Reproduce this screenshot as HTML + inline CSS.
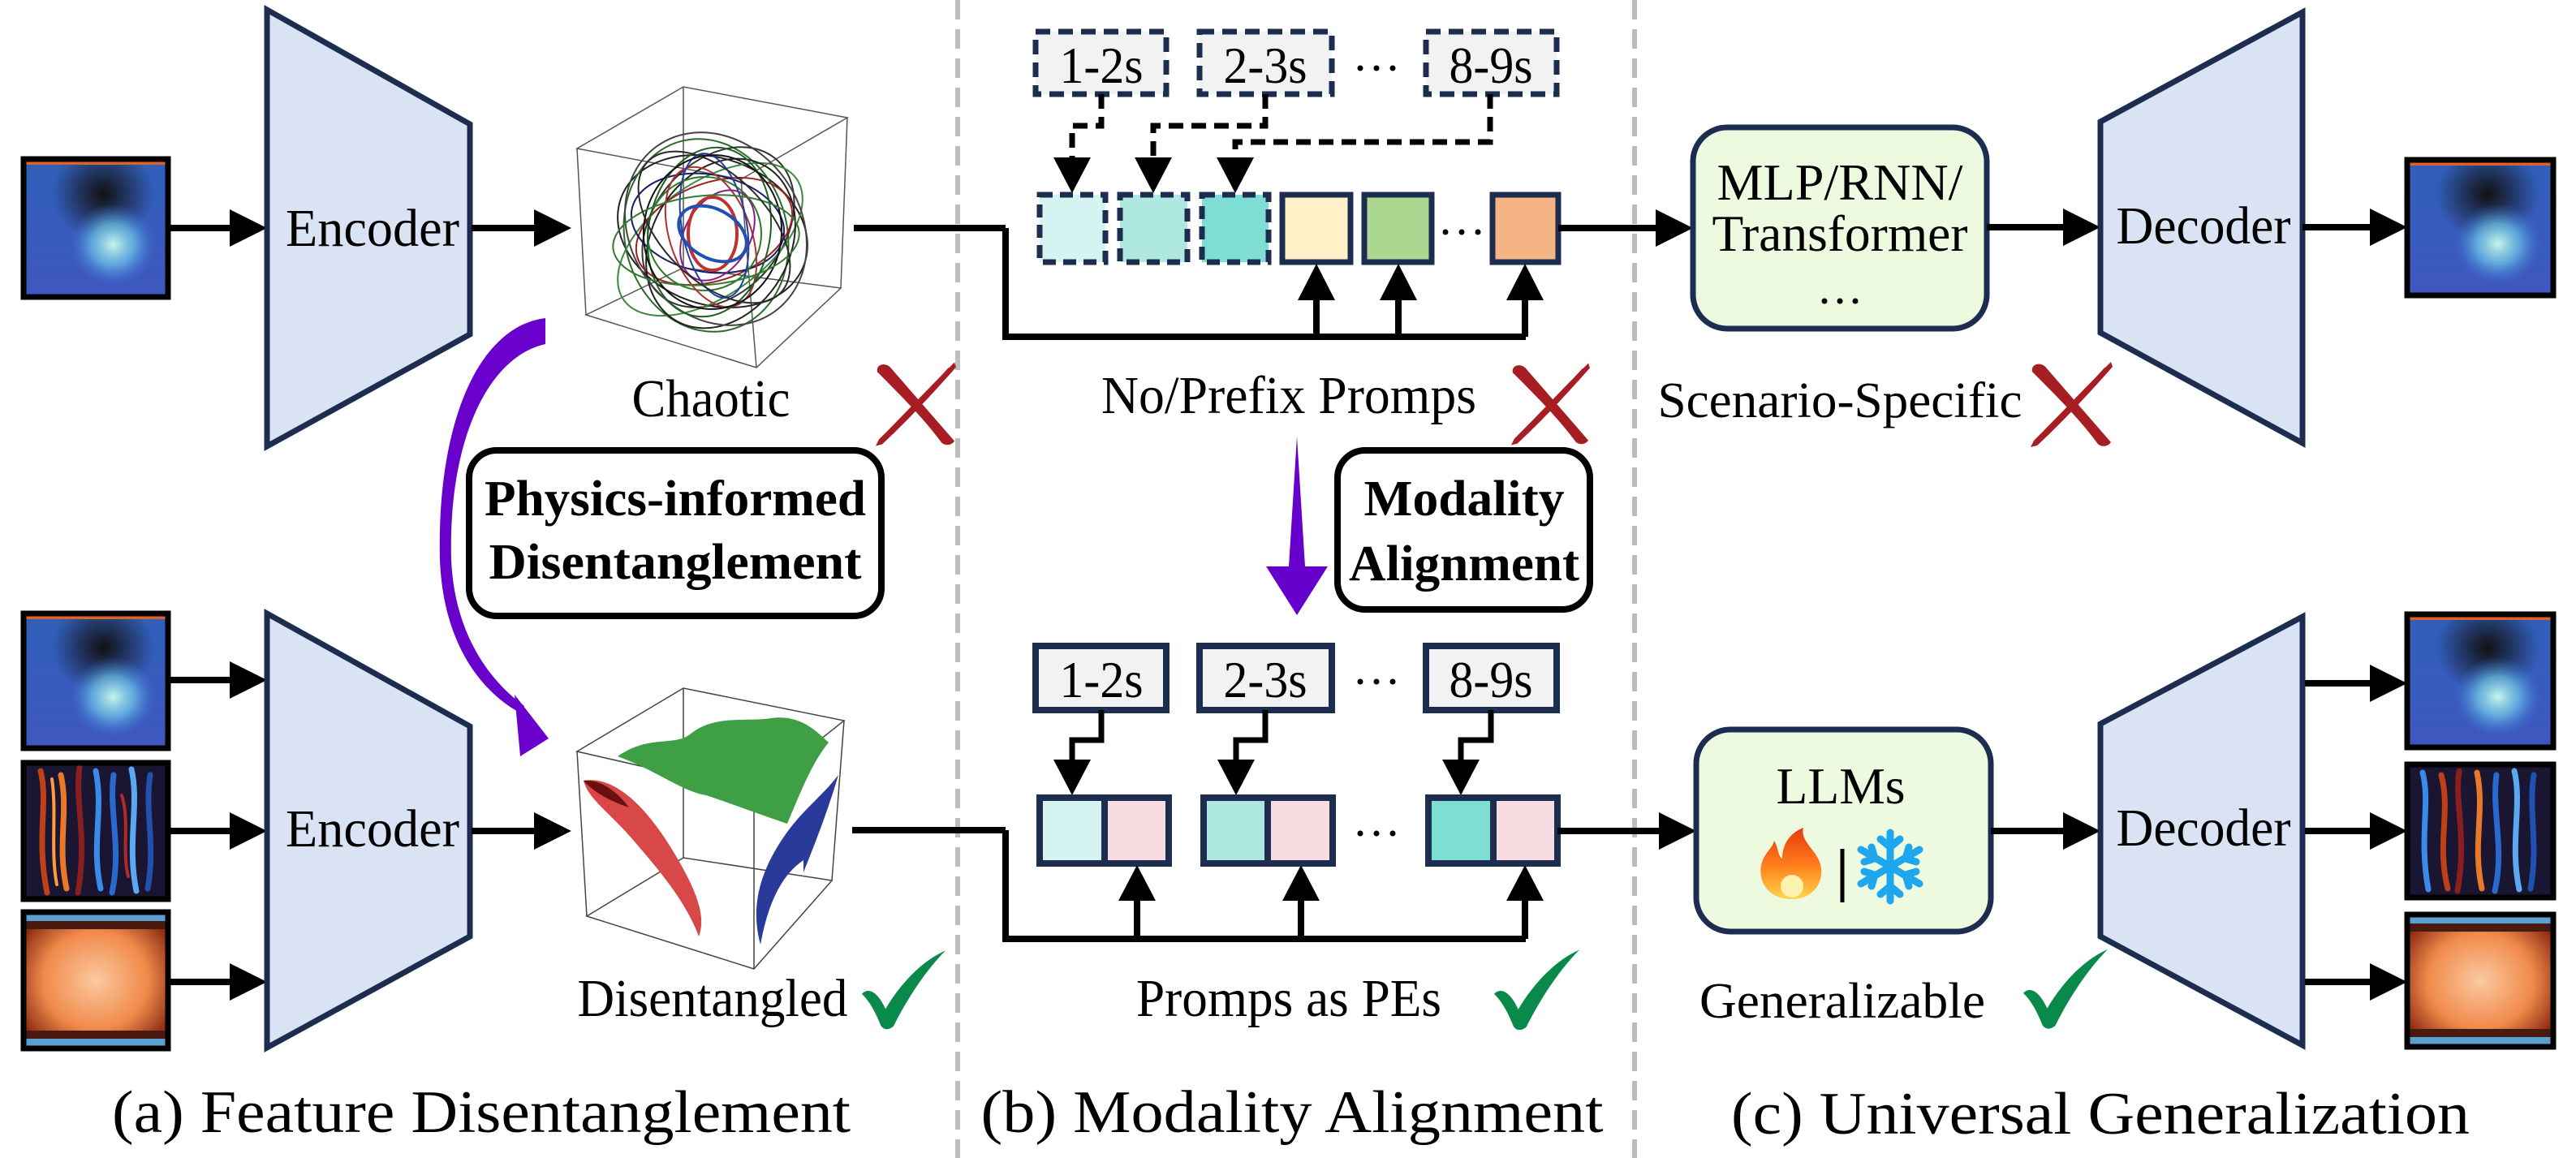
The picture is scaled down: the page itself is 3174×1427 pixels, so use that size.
<!DOCTYPE html>
<html><head><meta charset="utf-8"><style>html,body{margin:0;padding:0;background:#fff}svg{display:block}svg text{font-family:"Liberation Serif","DejaVu Serif",serif}</style></head>
<body>
<svg width="3174" height="1427" viewBox="0 0 3174 1427" xmlns="http://www.w3.org/2000/svg">
<defs>
<radialGradient id="g1a" cx="0.55" cy="0.25" r="0.35"><stop offset="0" stop-color="#111"/><stop offset="1" stop-color="#111" stop-opacity="0"/></radialGradient>
<radialGradient id="g1b" cx="0.62" cy="0.62" r="0.3"><stop offset="0" stop-color="#c8f5e8"/><stop offset="0.5" stop-color="#6fc6e8" stop-opacity="0.7"/><stop offset="1" stop-color="#3a7ad8" stop-opacity="0"/></radialGradient>
<linearGradient id="g1bg" x1="0" y1="0" x2="0" y2="1"><stop offset="0" stop-color="#2f5fb8"/><stop offset="1" stop-color="#3f57c0"/></linearGradient>
<radialGradient id="g3" cx="0.5" cy="0.5" r="0.6"><stop offset="0" stop-color="#fbc9a0"/><stop offset="0.6" stop-color="#f08a4a"/><stop offset="1" stop-color="#8a2a12"/></radialGradient>
<linearGradient id="fire" x1="0" y1="1" x2="0" y2="0"><stop offset="0" stop-color="#ffd54a"/><stop offset="0.5" stop-color="#ff7a1a"/><stop offset="1" stop-color="#e53a12"/></linearGradient>
<symbol id="rx" viewBox="0 0 100 104">
<path d="M2,12 C0,2 12,0 18,6 L98,98 C94,104 86,104 82,100 C60,70 30,40 2,12 Z" fill="#a61e24"/>
<path d="M98,0 L100,6 C70,40 40,72 8,102 L0,104 L4,96 C34,66 64,34 98,0 Z" fill="#a61e24"/>
<path d="M92,8 L20,88" stroke="#a61e24" stroke-width="4"/>
</symbol>
<symbol id="ck" viewBox="0 0 110 100">
<path d="M2,55 C10,46 22,52 32,74 C52,40 80,12 108,0 C86,22 62,56 42,96 C36,101 30,101 26,95 C20,80 12,64 2,55 Z" fill="#0a8a4a"/>
</symbol>
</defs>

<line x1="1180" y1="0" x2="1180" y2="1427" stroke="#bdbdbd" stroke-width="6" stroke-dasharray="24 12"/>
<line x1="2014" y1="0" x2="2014" y2="1427" stroke="#bdbdbd" stroke-width="6" stroke-dasharray="24 12"/>

<!-- ===== (a) ===== -->
<g>
<rect x="29" y="196" width="178" height="170" fill="url(#g1bg)"/>
<rect x="29" y="196" width="178" height="170" fill="url(#g1a)"/>
<rect x="29" y="196" width="178" height="170" fill="url(#g1b)"/>
<rect x="32" y="199" width="172" height="4" fill="#e0602a"/>
<rect x="29" y="196" width="178" height="170" fill="none" stroke="#000" stroke-width="7"/>
</g>
<line x1="207" y1="281" x2="285" y2="281" stroke="#000" stroke-width="8"/><polygon points="283,258 329,281 283,304"/>
<polygon points="329,12 579,153 579,412 329,550" fill="#dae3f3" stroke="#1c2d50" stroke-width="7"/>
<text x="459" y="303" font-size="66" text-anchor="middle" textLength="214" lengthAdjust="spacingAndGlyphs">Encoder</text>
<line x1="581" y1="281" x2="660" y2="281" stroke="#000" stroke-width="8"/><polygon points="658,258 704,281 658,304"/>
<g fill="none" stroke="#555" stroke-width="1.5">
<polygon points="711,183 842,107 1044,145 913,221"/>
<polygon points="722,388 842,330 1036,355 932,453"/>
<line x1="711" y1="183" x2="722" y2="388"/><line x1="842" y1="107" x2="842" y2="330"/><line x1="1044" y1="145" x2="1036" y2="355"/><line x1="913" y1="221" x2="932" y2="453"/>
</g>
<g fill="none" stroke-width="2">
<ellipse cx="878" cy="285" rx="120" ry="90" transform="rotate(20 878 285)" stroke="#222"/>
<ellipse cx="870" cy="290" rx="100" ry="120" transform="rotate(-15 870 290)" stroke="#2a6b2a"/>
<ellipse cx="885" cy="280" rx="80" ry="110" transform="rotate(40 885 280)" stroke="#333"/>
<ellipse cx="875" cy="295" rx="130" ry="70" transform="rotate(-35 875 295)" stroke="#3a8a3a"/>
<ellipse cx="880" cy="285" rx="60" ry="100" transform="rotate(70 880 285)" stroke="#a02020"/>
<ellipse cx="872" cy="275" rx="95" ry="60" transform="rotate(10 872 275)" stroke="#1a1a6a"/>
<ellipse cx="888" cy="300" rx="110" ry="85" transform="rotate(-60 888 300)" stroke="#222"/>
<ellipse cx="868" cy="288" rx="70" ry="70" stroke="#2a7a2a"/>
<ellipse cx="882" cy="282" rx="125" ry="105" transform="rotate(55 882 282)" stroke="#444"/>
<ellipse cx="876" cy="292" rx="50" ry="90" transform="rotate(-20 876 292)" stroke="#b03030"/>
<ellipse cx="880" cy="278" rx="90" ry="40" transform="rotate(80 880 278)" stroke="#2040a0"/>
<ellipse cx="874" cy="286" rx="105" ry="75" transform="rotate(-80 874 286)" stroke="#1f5f1f"/>
<ellipse cx="884" cy="290" rx="40" ry="60" transform="rotate(30 884 290)" stroke="#802080"/>
<ellipse cx="878" cy="286" rx="85" ry="95" transform="rotate(5 878 286)" stroke="#111"/>
<ellipse cx="870" cy="296" rx="115" ry="55" transform="rotate(-5 870 296)" stroke="#357a35"/>
<ellipse cx="880" cy="280" rx="65" ry="115" transform="rotate(-45 880 280)" stroke="#2b2b2b"/>
<ellipse cx="878" cy="288" rx="30" ry="45" stroke="#c03030" stroke-width="4"/>
<ellipse cx="878" cy="288" rx="45" ry="30" transform="rotate(30 878 288)" stroke="#2050b0" stroke-width="4"/>
</g>
<text x="876" y="513" font-size="66" text-anchor="middle" textLength="195" lengthAdjust="spacingAndGlyphs">Chaotic</text>
<use href="#rx" x="1079" y="446" width="99" height="104"/>
<line x1="1052" y1="281" x2="1239" y2="281" stroke="#000" stroke-width="8"/>
<path d="M672,392 C590,402 538,520 542,690 C546,790 590,850 640,878 L646,870 C602,838 560,780 556,690 C552,545 600,440 672,424 Z" fill="#6a00cc"/>
<polygon points="634,856 676,910 641,932" fill="#6a00cc"/>
<rect x="578" y="555" width="508" height="204" rx="34" fill="#fff" stroke="#000" stroke-width="8"/>
<text x="832" y="635" font-size="62" font-weight="bold" text-anchor="middle" textLength="470" lengthAdjust="spacingAndGlyphs">Physics-informed</text>
<text x="832" y="713" font-size="62" font-weight="bold" text-anchor="middle" textLength="459" lengthAdjust="spacingAndGlyphs">Disentanglement</text>

<g>
<rect x="29" y="756" width="178" height="166" fill="url(#g1bg)"/>
<rect x="29" y="756" width="178" height="166" fill="url(#g1a)"/>
<rect x="29" y="756" width="178" height="166" fill="url(#g1b)"/>
<rect x="32" y="759" width="172" height="4" fill="#e0602a"/>
<rect x="29" y="756" width="178" height="166" fill="none" stroke="#000" stroke-width="7"/>
</g>
<g>
<rect x="29" y="940" width="178" height="168" fill="#1a1530"/>
<g fill="none" stroke-width="7" stroke-linecap="round">
<path d="M50,950 C60,990 44,1030 58,1100" stroke="#c0401a"/>
<path d="M75,955 C85,1000 70,1040 82,1095" stroke="#e8782a"/>
<path d="M98,945 C92,990 108,1030 96,1100" stroke="#8a1f20"/>
<path d="M118,950 C128,1000 112,1040 124,1095" stroke="#3a8ae8"/>
<path d="M140,955 C134,1000 150,1045 138,1100" stroke="#2a6ad0"/>
<path d="M162,948 C172,990 156,1040 168,1098" stroke="#5aa8f0"/>
<path d="M185,955 C178,1000 192,1040 182,1095" stroke="#2050b0"/>
<path d="M64,960 C70,1000 62,1050 70,1090" stroke="#ff9a40" stroke-width="4"/>
<path d="M150,980 C160,1010 150,1050 158,1080" stroke="#b02a2a" stroke-width="4"/>
</g>
<rect x="29" y="940" width="178" height="168" fill="none" stroke="#000" stroke-width="7"/>
</g>
<g>
<rect x="29" y="1124" width="178" height="168" fill="url(#g3)"/>
<rect x="32" y="1127" width="172" height="8" fill="#5aa0d0"/>
<rect x="32" y="1135" width="172" height="10" fill="#4a1a10"/>
<rect x="32" y="1270" width="172" height="10" fill="#4a1a10"/>
<rect x="32" y="1280" width="172" height="9" fill="#5aa0d0"/>
<rect x="29" y="1124" width="178" height="168" fill="none" stroke="#000" stroke-width="7"/>
</g>
<g stroke="#000" stroke-width="8"><line x1="207" y1="838" x2="285" y2="838"/><line x1="207" y1="1024" x2="285" y2="1024"/><line x1="207" y1="1210" x2="285" y2="1210"/></g>
<polygon points="283,815 329,838 283,861"/><polygon points="283,1001 329,1024 283,1047"/><polygon points="283,1187 329,1210 283,1233"/>
<polygon points="329,756 579,895 579,1154 329,1291" fill="#dae3f3" stroke="#1c2d50" stroke-width="7"/>
<text x="459" y="1043" font-size="66" text-anchor="middle" textLength="214" lengthAdjust="spacingAndGlyphs">Encoder</text>
<line x1="581" y1="1024" x2="660" y2="1024" stroke="#000" stroke-width="8"/><polygon points="658,1001 704,1024 658,1047"/>
<g fill="none" stroke="#444" stroke-width="1.5">
<polygon points="711,926 842,848 1040,888 929,976"/>
<polygon points="723,1129 842,1057 1025,1085 929,1194"/>
<line x1="711" y1="926" x2="723" y2="1129"/><line x1="842" y1="848" x2="842" y2="1057"/><line x1="1040" y1="888" x2="1025" y2="1085"/><line x1="929" y1="976" x2="929" y2="1194"/>
</g>
<path d="M761,932 C800,905 830,920 850,905 C880,880 920,890 950,885 C985,880 1005,900 1021,915 C1000,940 985,980 970,1015 C940,1005 900,990 870,980 C840,975 810,950 761,932 Z" fill="#3f9f45"/>
<path d="M719,962 C760,955 800,1000 830,1050 C860,1100 870,1130 861,1154 C845,1110 810,1070 780,1035 C750,1000 725,985 719,962 Z" fill="#d84848"/>
<path d="M719,962 C740,960 760,975 775,995 C760,990 735,980 719,962 Z" fill="#6a1010"/>
<path d="M1033,955 C1010,985 985,1000 960,1040 C935,1080 925,1120 937,1164 C945,1120 960,1080 990,1060 L990,1075 C1000,1050 1020,1000 1033,955 Z" fill="#2a3a9a"/>
<text x="878" y="1252" font-size="66" text-anchor="middle" textLength="333" lengthAdjust="spacingAndGlyphs">Disentangled</text>
<use href="#ck" x="1060" y="1170" width="107" height="100"/>
<line x1="1050" y1="1023" x2="1239" y2="1023" stroke="#000" stroke-width="8"/>
<text x="593" y="1395" font-size="74" text-anchor="middle" textLength="910" lengthAdjust="spacingAndGlyphs">(a) Feature Disentanglement</text>

<!-- ===== (b) ===== -->
<g fill="#f2f2f2" stroke="#1c2d50" stroke-width="7" stroke-dasharray="18 10">
<rect x="1276" y="39" width="161" height="77"/><rect x="1478" y="39" width="163" height="77"/><rect x="1757" y="39" width="161" height="77"/>
</g>
<g font-size="64" text-anchor="middle">
<text x="1357" y="102" textLength="103" lengthAdjust="spacingAndGlyphs">1-2s</text>
<text x="1559" y="102" textLength="103" lengthAdjust="spacingAndGlyphs">2-3s</text>
<text x="1837" y="102" textLength="103" lengthAdjust="spacingAndGlyphs">8-9s</text>
</g>
<g fill="#000"><circle cx="1676" cy="84" r="3.5"/><circle cx="1696" cy="84" r="3.5"/><circle cx="1716" cy="84" r="3.5"/></g>
<g fill="none" stroke="#000" stroke-width="7" stroke-dasharray="18 10">
<path d="M1357,116 V155 H1321 V196"/><path d="M1559,116 V155 H1421 V196"/><path d="M1836,116 V175 H1522 V196"/>
</g>
<polygon points="1298,194 1321,238 1344,194"/><polygon points="1398,194 1421,238 1444,194"/><polygon points="1499,194 1522,238 1545,194"/>
<g stroke="#1c2d50" stroke-width="7">
<rect x="1281" y="240" width="81" height="83" fill="#d5f3f0" stroke-dasharray="16 9"/>
<rect x="1380" y="240" width="83" height="83" fill="#aee8e1" stroke-dasharray="16 9"/>
<rect x="1481" y="240" width="82" height="83" fill="#7fded4" stroke-dasharray="16 9"/>
<rect x="1580" y="240" width="84" height="83" fill="#fff0c8"/>
<rect x="1681" y="240" width="83" height="83" fill="#acd790"/>
<rect x="1839" y="240" width="81" height="83" fill="#f4b483"/>
</g>
<g fill="#000"><circle cx="1781" cy="286" r="3.5"/><circle cx="1801" cy="286" r="3.5"/><circle cx="1821" cy="286" r="3.5"/></g>
<polyline points="1239,281 1239,415 1880,415" fill="none" stroke="#000" stroke-width="8"/>
<g stroke="#000" stroke-width="8"><line x1="1622" y1="415" x2="1622" y2="366"/><line x1="1723" y1="415" x2="1723" y2="366"/><line x1="1879" y1="415" x2="1879" y2="366"/></g>
<polygon points="1599,370 1622,325 1645,370"/><polygon points="1700,370 1723,325 1746,370"/><polygon points="1856,370 1879,325 1902,370"/>
<line x1="1920" y1="281" x2="2042" y2="281" stroke="#000" stroke-width="8"/><polygon points="2040,258 2086,281 2040,304"/>
<text x="1588" y="509" font-size="66" text-anchor="middle" textLength="462" lengthAdjust="spacingAndGlyphs">No/Prefix Promps</text>
<use href="#rx" x="1862" y="446" width="97" height="104"/>
<polygon points="1598,538 1588,698 1560,698 1598,758 1636,698 1608,698" fill="#6600cc"/>
<rect x="1648" y="555" width="311" height="196" rx="34" fill="#fff" stroke="#000" stroke-width="8"/>
<text x="1804" y="635" font-size="62" font-weight="bold" text-anchor="middle" textLength="247" lengthAdjust="spacingAndGlyphs">Modality</text>
<text x="1804" y="715" font-size="62" font-weight="bold" text-anchor="middle" textLength="284" lengthAdjust="spacingAndGlyphs">Alignment</text>

<g fill="#f2f2f2" stroke="#1c2d50" stroke-width="8">
<rect x="1276" y="796" width="161" height="79"/><rect x="1478" y="796" width="163" height="79"/><rect x="1757" y="796" width="161" height="79"/>
</g>
<g font-size="64" text-anchor="middle">
<text x="1357" y="859" textLength="103" lengthAdjust="spacingAndGlyphs">1-2s</text>
<text x="1559" y="859" textLength="103" lengthAdjust="spacingAndGlyphs">2-3s</text>
<text x="1837" y="859" textLength="103" lengthAdjust="spacingAndGlyphs">8-9s</text>
</g>
<g fill="#000"><circle cx="1676" cy="840" r="3.5"/><circle cx="1696" cy="840" r="3.5"/><circle cx="1716" cy="840" r="3.5"/></g>
<g fill="none" stroke="#000" stroke-width="7">
<path d="M1357,875 V912 H1321 V940"/><path d="M1559,875 V912 H1523 V940"/><path d="M1837,875 V912 H1800 V940"/>
</g>
<polygon points="1298,936 1321,980 1344,936"/><polygon points="1500,936 1523,980 1546,936"/><polygon points="1777,936 1800,980 1823,936"/>
<g stroke="#1c2d50" stroke-width="8">
<rect x="1281" y="983" width="80" height="81" fill="#d5f3f0"/><rect x="1361" y="983" width="79" height="81" fill="#f9dce1"/>
<rect x="1483" y="983" width="79" height="81" fill="#aee8e1"/><rect x="1562" y="983" width="80" height="81" fill="#f9dce1"/>
<rect x="1760" y="983" width="80" height="81" fill="#7fded4"/><rect x="1840" y="983" width="79" height="81" fill="#f9dce1"/>
</g>
<g fill="#000"><circle cx="1676" cy="1027" r="3.5"/><circle cx="1696" cy="1027" r="3.5"/><circle cx="1716" cy="1027" r="3.5"/></g>
<polyline points="1239,1023 1239,1157 1880,1157" fill="none" stroke="#000" stroke-width="8"/>
<g stroke="#000" stroke-width="8"><line x1="1401" y1="1157" x2="1401" y2="1106"/><line x1="1603" y1="1157" x2="1603" y2="1106"/><line x1="1879" y1="1157" x2="1879" y2="1106"/></g>
<polygon points="1378,1110 1401,1066 1424,1110"/><polygon points="1580,1110 1603,1066 1626,1110"/><polygon points="1856,1110 1879,1066 1902,1110"/>
<line x1="1919" y1="1024" x2="2046" y2="1024" stroke="#000" stroke-width="8"/><polygon points="2044,1001 2090,1024 2044,1047"/>
<text x="1588" y="1252" font-size="66" text-anchor="middle" textLength="376" lengthAdjust="spacingAndGlyphs">Promps as PEs</text>
<use href="#ck" x="1839" y="1170" width="109" height="100"/>
<text x="1592" y="1395" font-size="74" text-anchor="middle" textLength="767" lengthAdjust="spacingAndGlyphs">(b) Modality Alignment</text>

<!-- ===== (c) ===== -->
<rect x="2086" y="157" width="362" height="248" rx="42" fill="#eefadf" stroke="#1c2d50" stroke-width="7"/>
<g font-size="64" text-anchor="middle">
<text x="2267" y="246" textLength="303" lengthAdjust="spacingAndGlyphs">MLP/RNN/</text>
<text x="2267" y="309" textLength="315" lengthAdjust="spacingAndGlyphs">Transformer</text>
</g>
<g fill="#000"><circle cx="2248" cy="371" r="3.5"/><circle cx="2267" cy="371" r="3.5"/><circle cx="2286" cy="371" r="3.5"/></g>
<line x1="2448" y1="280" x2="2544" y2="280" stroke="#000" stroke-width="8"/><polygon points="2542,257 2588,280 2542,303"/>
<polygon points="2588,150 2837,15 2837,546 2588,410" fill="#dae3f3" stroke="#1c2d50" stroke-width="7"/>
<text x="2715" y="300" font-size="66" text-anchor="middle" textLength="215" lengthAdjust="spacingAndGlyphs">Decoder</text>
<line x1="2837" y1="280" x2="2922" y2="280" stroke="#000" stroke-width="8"/><polygon points="2920,257 2966,280 2920,303"/>
<g>
<rect x="2966" y="197" width="180" height="167" fill="url(#g1bg)"/>
<rect x="2966" y="197" width="180" height="167" fill="url(#g1a)"/>
<rect x="2966" y="197" width="180" height="167" fill="url(#g1b)"/>
<rect x="2969" y="200" width="174" height="4" fill="#e0602a"/>
<rect x="2966" y="197" width="180" height="167" fill="none" stroke="#000" stroke-width="7"/>
</g>
<text x="2267" y="514" font-size="62" text-anchor="middle" textLength="449" lengthAdjust="spacingAndGlyphs">Scenario-Specific</text>
<use href="#rx" x="2502" y="446" width="101" height="105"/>

<rect x="2090" y="899" width="363" height="249" rx="42" fill="#eefadf" stroke="#1c2d50" stroke-width="7"/>
<text x="2268" y="990" font-size="64" text-anchor="middle" textLength="159" lengthAdjust="spacingAndGlyphs">LLMs</text>
<path d="M2208,1108 C2180,1108 2166,1088 2170,1066 C2174,1050 2184,1046 2186,1036 C2192,1046 2190,1054 2196,1058 C2196,1040 2206,1026 2222,1020 C2218,1036 2236,1046 2242,1062 C2250,1084 2236,1108 2208,1108 Z" fill="url(#fire)"/>
<ellipse cx="2208" cy="1092" rx="14" ry="14" fill="#fff3b0"/>
<line x1="2270" y1="1046" x2="2270" y2="1112" stroke="#000" stroke-width="5"/>
<g stroke="#1ea7ee" stroke-width="9" stroke-linecap="round" fill="none">
<line x1="2329" y1="1026" x2="2329" y2="1110"/>
<line x1="2293" y1="1047" x2="2365" y2="1089"/>
<line x1="2293" y1="1089" x2="2365" y2="1047"/>
<polyline points="2317,1034 2329,1044 2341,1034"/><polyline points="2317,1102 2329,1092 2341,1102"/>
<polyline points="2297,1062 2310,1058 2306,1044"/><polyline points="2361,1062 2348,1058 2352,1044"/>
<polyline points="2297,1074 2310,1078 2306,1092"/><polyline points="2361,1074 2348,1078 2352,1092"/>
</g>
<line x1="2453" y1="1024" x2="2544" y2="1024" stroke="#000" stroke-width="8"/><polygon points="2542,1001 2588,1024 2542,1047"/>
<polygon points="2588,892 2837,760 2837,1288 2588,1154" fill="#dae3f3" stroke="#1c2d50" stroke-width="7"/>
<text x="2715" y="1042" font-size="66" text-anchor="middle" textLength="215" lengthAdjust="spacingAndGlyphs">Decoder</text>
<g stroke="#000" stroke-width="8"><line x1="2840" y1="842" x2="2922" y2="842"/><line x1="2840" y1="1024" x2="2922" y2="1024"/><line x1="2840" y1="1210" x2="2922" y2="1210"/></g>
<polygon points="2920,819 2966,842 2920,865"/><polygon points="2920,1001 2966,1024 2920,1047"/><polygon points="2920,1187 2966,1210 2920,1233"/>
<g>
<rect x="2966" y="757" width="180" height="164" fill="url(#g1bg)"/>
<rect x="2966" y="757" width="180" height="164" fill="url(#g1a)"/>
<rect x="2966" y="757" width="180" height="164" fill="url(#g1b)"/>
<rect x="2969" y="760" width="174" height="4" fill="#e0602a"/>
<rect x="2966" y="757" width="180" height="164" fill="none" stroke="#000" stroke-width="7"/>
</g>
<g>
<rect x="2966" y="942" width="180" height="164" fill="#1a1530"/>
<g fill="none" stroke-width="7" stroke-linecap="round">
<path d="M2985,952 C2995,990 2980,1030 2992,1096" stroke="#3a8ae8"/>
<path d="M3008,955 C3020,1000 3002,1040 3016,1095" stroke="#c0401a"/>
<path d="M3030,950 C3024,990 3040,1030 3028,1098" stroke="#8a1f20"/>
<path d="M3052,952 C3062,1000 3046,1040 3058,1095" stroke="#e8782a"/>
<path d="M3076,955 C3070,1000 3086,1045 3074,1098" stroke="#2a6ad0"/>
<path d="M3098,950 C3108,990 3092,1040 3104,1096" stroke="#5aa8f0"/>
<path d="M3122,955 C3115,1000 3128,1040 3118,1095" stroke="#2050b0"/>
</g>
<rect x="2966" y="942" width="180" height="164" fill="none" stroke="#000" stroke-width="7"/>
</g>
<g>
<rect x="2966" y="1127" width="180" height="163" fill="url(#g3)"/>
<rect x="2969" y="1130" width="174" height="8" fill="#5aa0d0"/>
<rect x="2969" y="1138" width="174" height="10" fill="#4a1a10"/>
<rect x="2969" y="1268" width="174" height="10" fill="#4a1a10"/>
<rect x="2969" y="1278" width="174" height="9" fill="#5aa0d0"/>
<rect x="2966" y="1127" width="180" height="163" fill="none" stroke="#000" stroke-width="7"/>
</g>
<text x="2270" y="1254" font-size="62" text-anchor="middle" textLength="352" lengthAdjust="spacingAndGlyphs">Generalizable</text>
<use href="#ck" x="2491" y="1169" width="108" height="100"/>
<text x="2588" y="1397" font-size="74" text-anchor="middle" textLength="910" lengthAdjust="spacingAndGlyphs">(c) Universal Generalization</text>
</svg>
</body></html>
